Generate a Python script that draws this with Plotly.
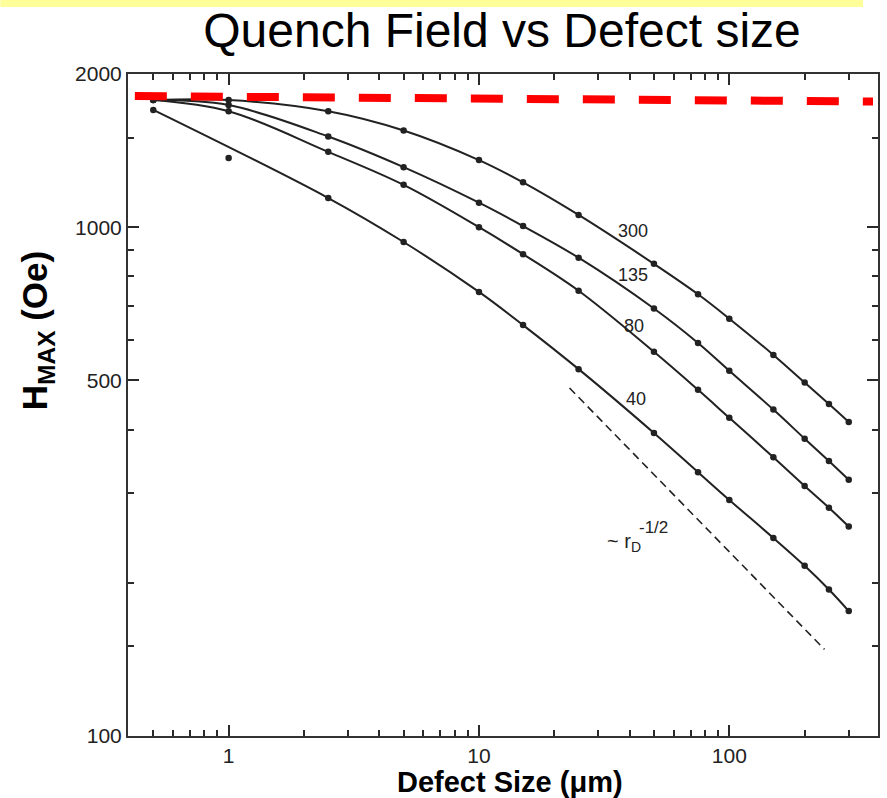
import math
import plotly.graph_objects as go

# ---------------- data ----------------
defect_size = [0.5, 1, 2.5, 5, 10, 15, 25, 50, 75, 100, 150, 200, 250, 300]

h_300 = [1778, 1778, 1690, 1549, 1355, 1225, 1057, 847, 738, 661, 561, 495, 449, 414]
h_135 = [1778, 1738, 1507, 1312, 1117, 1005, 871, 692, 592, 522, 438, 384, 347, 319]
h_80 = [1778, 1690, 1406, 1211, 1000, 885, 750, 569, 479, 422, 353, 310, 281, 258]
h_40 = [1700, 1368, 1141, 935, 746, 642, 526, 394, 330, 291, 245, 216, 194, 176]
# point of the 40 series that lies off its fitted curve
outlier_index_40 = 1

series_names = ["300", "135", "80", "40"]

slope_x = [23, 240]
slope_y = [483, 148]

limit_x = [0.422, 375]
limit_y = [1810, 1766]

x_major = [1, 10, 100]
x_major_text = ["1", "10", "100"]
x_minor = [0.5, 0.6, 0.7, 0.8, 0.9, 2, 3, 4, 5, 6, 7, 8, 9,
           20, 30, 40, 50, 60, 70, 80, 90, 200, 300]
y_major = [100, 500, 1000, 2000]
y_major_text = ["100", "500", "1000", "2000"]
y_minor = [150, 200, 300, 400, 600, 700, 800, 900, 1500]

label_pos = {"300": (41.4, 983), "135": (41.1, 805), "80": (41.8, 640), "40": (42.2, 460)}
slope_label_pos = (37.8, 240)
slope_exp_pos = (49.8, 257)

# ---------------- figure ----------------
INK = "#222222"
AXC = "#333333"
TKC = "#2a2a2a"
fig = go.Figure()

all_series = [h_300, h_135, h_80, h_40]
for name, ys in zip(series_names, all_series):
    if name == "40":
        lx = [x for i, x in enumerate(defect_size) if i != outlier_index_40]
        ly = [y for i, y in enumerate(ys) if i != outlier_index_40]
    else:
        lx, ly = defect_size, ys
    fig.add_trace(go.Scatter(x=lx, y=ly, mode="lines",
                             line=dict(color=INK, width=2, shape="spline", smoothing=1),
                             showlegend=False, hoverinfo="skip"))
    fig.add_trace(go.Scatter(x=defect_size, y=ys, mode="markers",
                             marker=dict(color=INK, size=6.5),
                             showlegend=False, name=name))

fig.add_trace(go.Scatter(x=slope_x, y=slope_y, mode="lines",
                         line=dict(color=INK, width=1.6, dash="8px,5px"),
                         showlegend=False, hoverinfo="skip"))

fig.add_trace(go.Scatter(x=limit_x, y=limit_y, mode="lines",
                         line=dict(color="#FF0000", width=8, dash="32px,24px"),
                         showlegend=False, hoverinfo="skip"))

# invisible trace so the mirrored tick axes (top / right) are drawn
fig.add_trace(go.Scatter(x=limit_x, y=limit_y, mode="markers", xaxis="x2", yaxis="y2",
                         marker=dict(opacity=0), showlegend=False, hoverinfo="skip"))

label_font = dict(family="Liberation Sans, Arial", size=18, color=INK)
for name in series_names:
    px, py = label_pos[name]
    fig.add_annotation(x=math.log10(px), y=math.log10(py), text=name, showarrow=False,
                       font=label_font, xanchor="center", yanchor="middle")
fig.add_annotation(x=math.log10(slope_label_pos[0]), y=math.log10(slope_label_pos[1]),
                   text="~ r<sub>D</sub>", showarrow=False,
                   font=dict(family="Liberation Sans, Arial", size=20, color=INK),
                   xanchor="center", yanchor="middle")
fig.add_annotation(x=math.log10(slope_exp_pos[0]), y=math.log10(slope_exp_pos[1]),
                   text="-1/2", showarrow=False,
                   font=dict(family="Liberation Sans, Arial", size=17, color=INK),
                   xanchor="center", yanchor="middle")

W, H = 887, 798
L, R, T, B = 128, 7, 74, 62
pw, ph = W - L - R, H - T - B

def px_to_paper(xp, yp):
    return (xp - L) / pw, (H - B - yp) / ph

# y-axis title
ax, ay = px_to_paper(37, 331)
fig.add_annotation(xref="paper", yref="paper", x=ax, y=ay, textangle=-90,
                   text="<b>H<sub>MAX</sub> (Oe)</b>", showarrow=False,
                   font=dict(family="Liberation Sans, Arial", size=35, color="black"),
                   xanchor="center", yanchor="middle")
# x-axis title
bx, by = px_to_paper(511, 782)
fig.add_annotation(xref="paper", yref="paper", x=bx, y=by,
                   text="<b>Defect Size (μm)</b>", showarrow=False,
                   font=dict(family="Liberation Sans, Arial", size=29, color="black"),
                   xanchor="center", yanchor="middle")

# yellow band at the very top
y0p = px_to_paper(0, 7)[1]
y1p = px_to_paper(0, 0)[1]
x0p = px_to_paper(0, 0)[0]
x1p = px_to_paper(865, 0)[0]
fig.add_shape(type="rect", xref="paper", yref="paper", x0=x0p, x1=x1p, y0=y0p, y1=y1p,
              fillcolor="#FFFF99", line=dict(width=0), layer="above")

tick_font = dict(family="Liberation Sans, Arial", size=21, color="#222222")
xr = [-0.402, 2.594]
yr = [2, math.log10(2000)]

def tick_minor(vals):
    return dict(tickmode="array", tickvals=vals, ticks="inside", ticklen=6,
                tickwidth=2, tickcolor=TKC, showgrid=False)

fig.update_layout(
    width=W, height=H,
    margin=dict(l=L, r=R, t=T, b=B),
    paper_bgcolor="white", plot_bgcolor="white",
    title=dict(text="Quench Field vs Defect size", x=502 / W, y=1 - 30 / H,
               xanchor="center", yanchor="middle", xref="container", yref="container",
               font=dict(family="Liberation Sans, Arial", size=48, color="black")),
    xaxis=dict(type="log", range=xr, showgrid=False, zeroline=False,
               showline=True, linecolor=AXC, linewidth=2, mirror=True,
               ticks="inside", ticklen=11, tickwidth=2, tickcolor=TKC,
               tickmode="array", tickvals=x_major, ticktext=x_major_text, tickfont=tick_font,
               minor=tick_minor(x_minor)),
    yaxis=dict(type="log", range=yr, showgrid=False, zeroline=False,
               showline=True, linecolor=AXC, linewidth=2, mirror=True,
               ticks="inside", ticklen=11, tickwidth=2, tickcolor=TKC,
               tickmode="array", tickvals=y_major, ticktext=y_major_text, tickfont=tick_font,
               minor=tick_minor(y_minor)),
    xaxis2=dict(type="log", range=xr, overlaying="x", side="top", anchor="y2",
                showgrid=False, zeroline=False, showline=False, showticklabels=False,
                ticks="inside", ticklen=11, tickwidth=2, tickcolor=TKC,
                tickmode="array", tickvals=x_major, minor=tick_minor(x_minor)),
    yaxis2=dict(type="log", range=yr, overlaying="y", side="right", anchor="x2",
                showgrid=False, zeroline=False, showline=False, showticklabels=False,
                ticks="inside", ticklen=11, tickwidth=2, tickcolor=TKC,
                tickmode="array", tickvals=y_major, minor=tick_minor(y_minor)),
)

fig.write_html("out.html")
